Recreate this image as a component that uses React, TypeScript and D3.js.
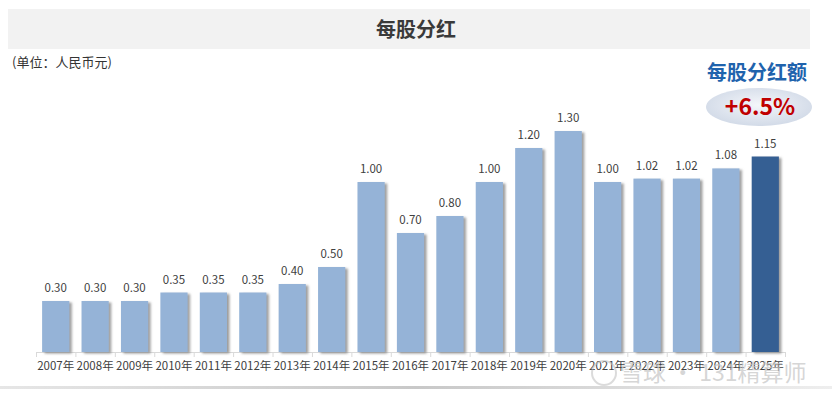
import * as d3 from "d3";

const years = [
  "2007年", "2008年", "2009年", "2010年", "2011年", "2012年", "2013年",
  "2014年", "2015年", "2016年", "2017年", "2018年", "2019年", "2020年",
  "2021年", "2022年", "2023年", "2024年", "2025年",
];
const dividends = [
  0.3, 0.3, 0.3, 0.35, 0.35, 0.35, 0.4, 0.5, 1.0, 0.7, 0.8, 1.0, 1.2, 1.3,
  1.0, 1.02, 1.02, 1.08, 1.15,
];
const highlightYear = "2025年";
const growthText = "+6.5%";

const W = 832;
const H = 398;
const FONT = "'Noto Sans CJK SC', 'Noto Sans', sans-serif";

export default function App() {
  const x = d3.scaleBand<string>().domain(years).range([36, 785]).paddingInner(0.31).paddingOuter(0.155);
  const y = d3.scaleLinear().domain([0, 1.3]).range([352, 131]);
  const base = y(0);
  const step = x.step();

  return (
    <div style={{ position: "absolute", left: 0, top: 0 }}>
      <svg width={W} height={H} style={{ display: "block", background: "#fff" }}>
        <defs>
          <filter id="shadow" x="-30%" y="-10%" width="170%" height="130%">
            <feDropShadow dx="2.5" dy="1.5" stdDeviation="1.2" floodColor="#7f7f7f" floodOpacity="0.75" />
          </filter>
          <radialGradient id="ell" cx="50%" cy="45%" r="60%">
            <stop offset="0%" stopColor="#f4f6fa" />
            <stop offset="100%" stopColor="#cfd8e6" />
          </radialGradient>
          <linearGradient id="bottomLine" x1="0" x2="1" y1="0" y2="0">
            <stop offset="0%" stopColor="#e6e6e6" />
            <stop offset="50%" stopColor="#c8c8c8" />
            <stop offset="100%" stopColor="#eeeeee" />
          </linearGradient>
        </defs>

        {/* title band */}
        <rect x={8} y={9} width={802} height={40} fill="#f2f2f2" />
        <text x={416} y={37} textAnchor="middle" fontFamily={FONT} fontSize={20} fontWeight={700} fill="#3a3a3a">
          每股分红
        </text>
        <text x={12} y={67} fontFamily={FONT} fontSize={13} fill="#333">
          (单位：人民币元)
        </text>

        {/* callout */}
        <text x={757} y={80} textAnchor="middle" fontFamily={FONT} fontSize={20} fontWeight={700} fill="#1f63ad">
          每股分红额
        </text>
        <ellipse cx={759} cy={107} rx={53} ry={19} fill="url(#ell)" />
        <text x={760} y={115} textAnchor="middle" fontFamily={FONT} fontSize={23} fontWeight={700} fill="#c00000">
          {growthText}
        </text>

        {/* axis */}
        <line x1={36} x2={785} y1={base + 0.5} y2={base + 0.5} stroke="#d9d9d9" />
        {years.map((yr, i) => (
          <line key={"t" + yr} x1={36 + i * step + 0.5} x2={36 + i * step + 0.5} y1={base} y2={base + 5} stroke="#d9d9d9" />
        ))}
        <line x1={785.5} x2={785.5} y1={base} y2={base + 5} stroke="#d9d9d9" />

        {/* bars */}
        {years.map((yr, i) => {
          const v = dividends[i];
          const bx = x(yr)!;
          const top = y(v);
          const hi = yr === highlightYear;
          return (
            <g key={yr}>
              <rect
                x={bx}
                y={top}
                width={x.bandwidth()}
                height={base - top}
                fill={hi ? "#345f93" : "#95b3d7"}
                filter="url(#shadow)"
              />
              <text
                x={bx + x.bandwidth() / 2}
                y={top - 9}
                textAnchor="middle"
                fontFamily={FONT}
                fontSize={11.5}
                fill="#404040"
              >
                {v.toFixed(2)}
              </text>
              <text
                x={36 + i * step + step / 2}
                y={base + 18}
                textAnchor="middle"
                fontFamily={FONT}
                fontSize={11.5}
                fill="#404040"
              >
                {yr}
              </text>
            </g>
          );
        })}

        {/* bottom divider */}
        <rect x={0} y={386} width={W} height={3} fill="url(#bottomLine)" />

        {/* watermark */}
        <g opacity={0.55} fill="none" stroke="#bdbdbd">
          <circle cx={604} cy={373} r={12} strokeWidth={2} />
        </g>
        <text x={620} y={381} fontFamily={FONT} fontSize={23} fill="#c4c4c4" fillOpacity={0.7}>
          雪球 · 131精算师
        </text>
      </svg>
    </div>
  );
}
